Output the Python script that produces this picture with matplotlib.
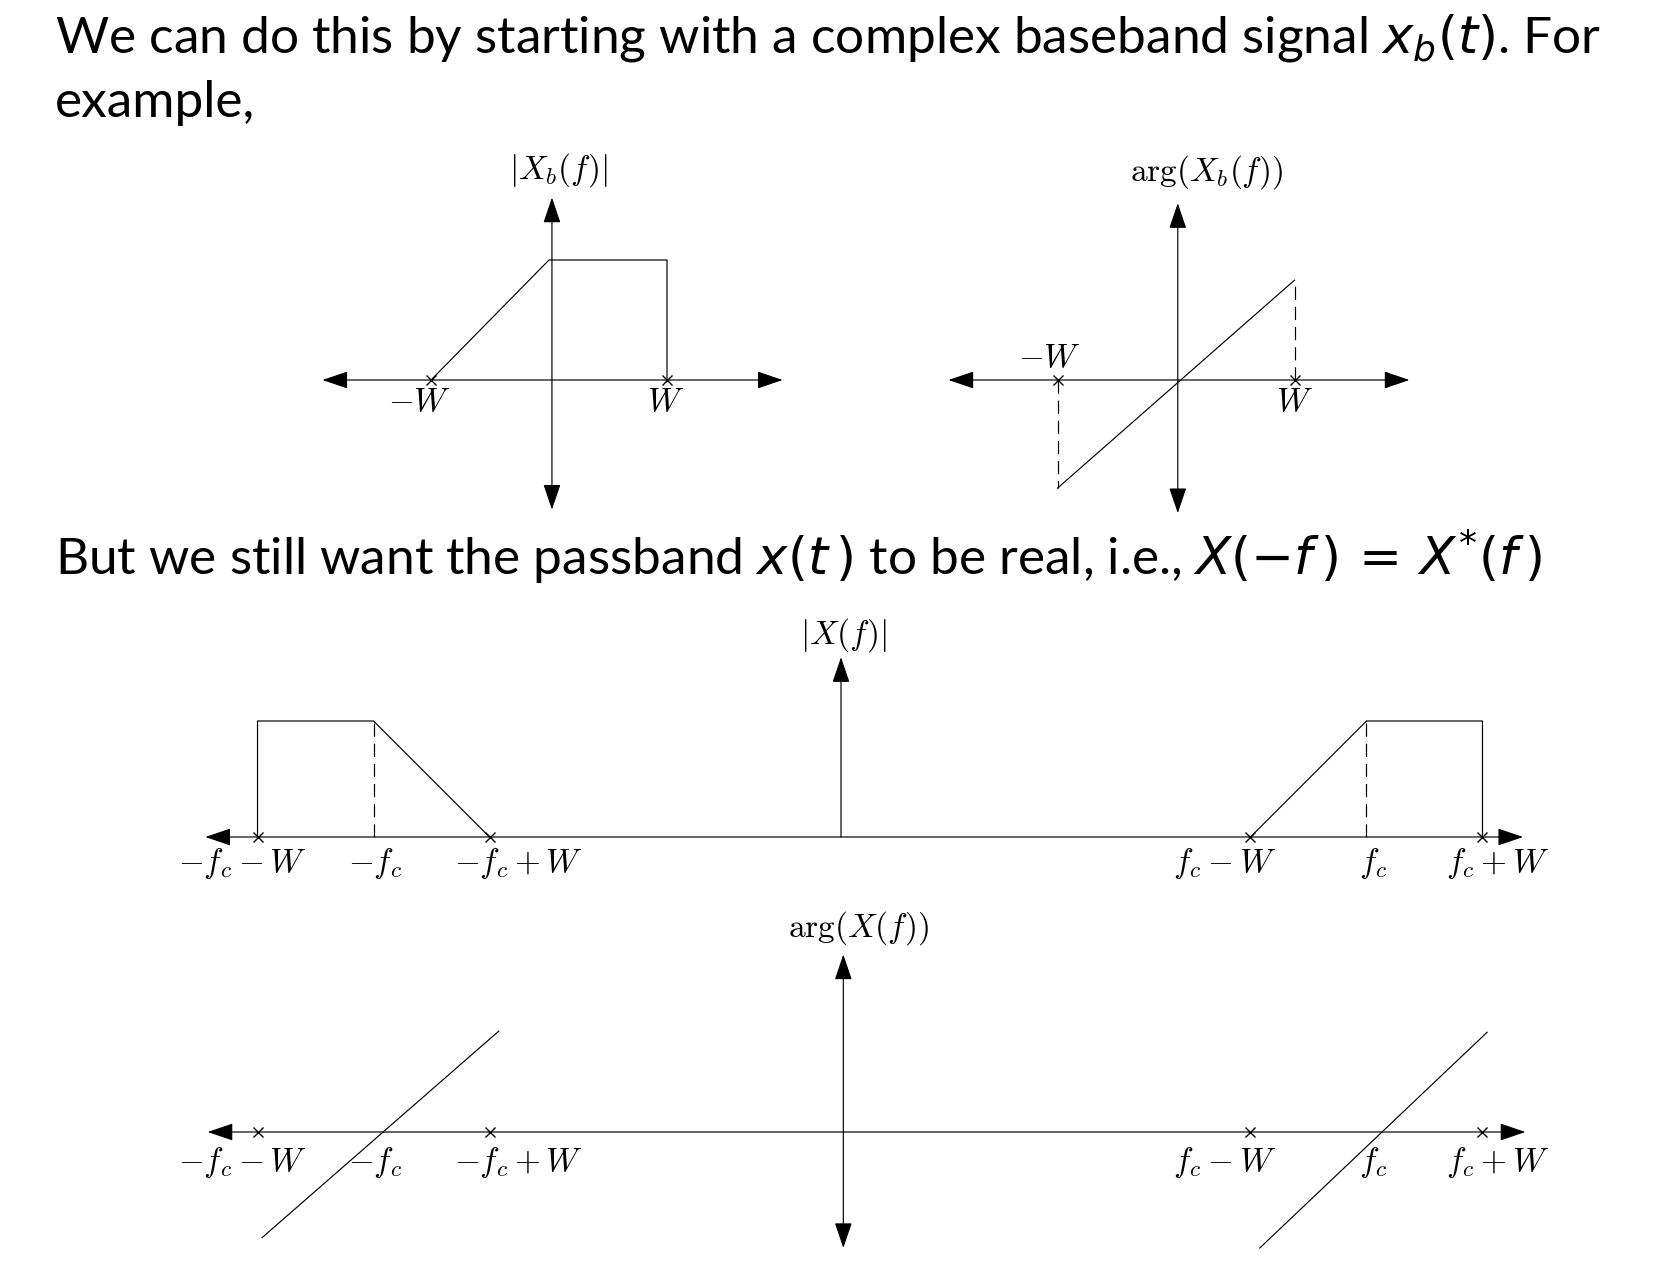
import matplotlib
matplotlib.use("Agg")
import matplotlib.pyplot as plt

plt.rcParams['lines.scale_dashes'] = False

W_PX, H_PX = 1654, 1274

# frequency units: W = 1
W = 1.0
fc = 4.28

# baseband magnitude / phase
bb_mag_f = [-W, 0, W, W]
bb_mag_v = [0, 1, 1, 0]
bb_phase_f = [-W, W]
bb_phase_v = [-1.04, 0.96]

# passband magnitude (two copies)
pb_mag_left_f = [-fc - W, -fc - W, -fc, -fc + W]
pb_mag_left_v = [0, 1, 1, 0]
pb_mag_right_f = [fc - W, fc, fc + W, fc + W]
pb_mag_right_v = [0, 1, 1, 0]

# passband phase segments
pb_phase_left_f = [-5.24, -3.20]
pb_phase_left_v = [-0.91, 0.87]
pb_phase_right_f = [3.36, 5.32]
pb_phase_right_v = [-1.00, 0.86]

bb_ticks = [-W, W]
bb_tick_labels = [r'$-W$', r'$W$']
pb_ticks = [-fc - W, -fc, -fc + W, fc - W, fc, fc + W]
pb_tick_labels = [r'$-f_c - W$', r'$-f_c$', r'$-f_c + W$',
                  r'$f_c - W$', r'$f_c$', r'$f_c + W$']
pb_markers = [-fc - W, -fc + W, fc - W, fc + W]

LW = 0.85
LAB = 24
DASH = (9.5, 5)


def panel(fig, ox, oy, ux, uy):
    # axes over the whole figure, origin at pixel (ox, oy)
    ax = fig.add_axes([0, 0, 1, 1])
    ax.set_xlim(-ox / ux, (W_PX - ox) / ux)
    ax.set_ylim(-(H_PX - oy) / uy, oy / uy)
    ax.axis('off')
    ax.patch.set_alpha(0)
    return ax


def arrow(ax, x0, y0, x1, y1, both=True):
    style = '<|-|>' if both else '-|>'
    ax.annotate('', xy=(x1, y1), xytext=(x0, y0),
                arrowprops=dict(arrowstyle=style + ',head_length=1.0,head_width=0.34',
                                mutation_scale=16, lw=LW, color='black',
                                shrinkA=0, shrinkB=0))


def label(ax, x, y, s):
    ax.text(x, y, s, fontsize=LAB, ha='center', va='center', math_fontfamily='cm')


fig = plt.figure(figsize=(W_PX / 100, H_PX / 100), dpi=100)
fig.patch.set_facecolor('white')

txt = dict(fontsize=37, family='Lato', math_fontfamily='dejavusans', va='center', ha='left')
fig.text(55 / W_PX, 1 - 38 / H_PX,
         r'We can do this by starting with a complex baseband signal $x_b(t)$. For', **txt)
fig.text(55 / W_PX, 1 - 103 / H_PX, 'example,', **txt)
fig.text(55 / W_PX, 1 - 556 / H_PX,
         r'But we still want the passband $x(t\,)$ to be real, i.e., '
         r'$X(-f\,)\,=\,X^{*}(f\,)$', **txt)

# top left: |Xb(f)|
ax = panel(fig, 549, 380, 118, 120)
arrow(ax, -1.92, 0, 1.98, 0)
arrow(ax, 0.025, -1.08, 0.025, 1.52)
ax.plot(bb_mag_f, bb_mag_v, color='black', lw=LW)
ax.plot(bb_ticks, [0, 0], 'x', color='black', ms=7, mew=1)
label(ax, -1.10, -0.18, bb_tick_labels[0])
label(ax, 0.99, -0.18, bb_tick_labels[1])
label(ax, 0.076, 1.75, r'$|X_b(f)|$')

# top right: arg(Xb(f))
ax = panel(fig, 1176, 380, 118.5, 104)
arrow(ax, -1.92, 0, 1.97, 0)
arrow(ax, 0.015, -1.28, 0.015, 1.70)
ax.plot(bb_phase_f, bb_phase_v, color='black', lw=LW)
for f, v in zip(bb_phase_f, bb_phase_v):
    ax.plot([f, f], [0, v], color='black', lw=LW, dashes=DASH)
ax.plot(bb_ticks, [0, 0], 'x', color='black', ms=7, mew=1)
label(ax, -1.07, 0.22, bb_tick_labels[0])
label(ax, 1.0, -0.21, bb_tick_labels[1])
label(ax, 0.26, 2.0, r'$\arg(X_b(f))$')

# bottom: |X(f)|
lab_off = [-0.13, 0.01, 0.25, -0.22, 0.06, 0.13]
ax = panel(fig, 870, 837, 116, 116)
arrow(ax, -5.73, 0, 5.63, 0)
arrow(ax, -0.25, 0, -0.25, 1.55, both=False)
ax.plot(pb_mag_left_f, pb_mag_left_v, color='black', lw=LW)
ax.plot(pb_mag_right_f, pb_mag_right_v, color='black', lw=LW)
for f in [-fc, fc]:
    ax.plot([f, f], [0, 1], color='black', lw=LW, dashes=DASH)
ax.plot(pb_markers, [0] * len(pb_markers), 'x', color='black', ms=7, mew=1)
for t, s, o in zip(pb_ticks, pb_tick_labels, lab_off):
    label(ax, t + o, -0.23, s)
label(ax, -0.23, 1.74, r'$|X(f)|$')

# bottom: arg(X(f))
ax = panel(fig, 870, 1132, 116, 116)
arrow(ax, -5.71, 0, 5.65, 0)
arrow(ax, -0.23, -1.0, -0.23, 1.53)
ax.plot(pb_phase_left_f, pb_phase_left_v, color='black', lw=LW)
ax.plot(pb_phase_right_f, pb_phase_right_v, color='black', lw=LW)
ax.plot(pb_markers, [0] * len(pb_markers), 'x', color='black', ms=7, mew=1)
for t, s, o in zip(pb_ticks, pb_tick_labels, lab_off):
    label(ax, t + o, -0.26, s)
label(ax, -0.10, 1.76, r'$\arg(X(f))$')

fig.savefig('out.png', dpi=100, facecolor='white')
